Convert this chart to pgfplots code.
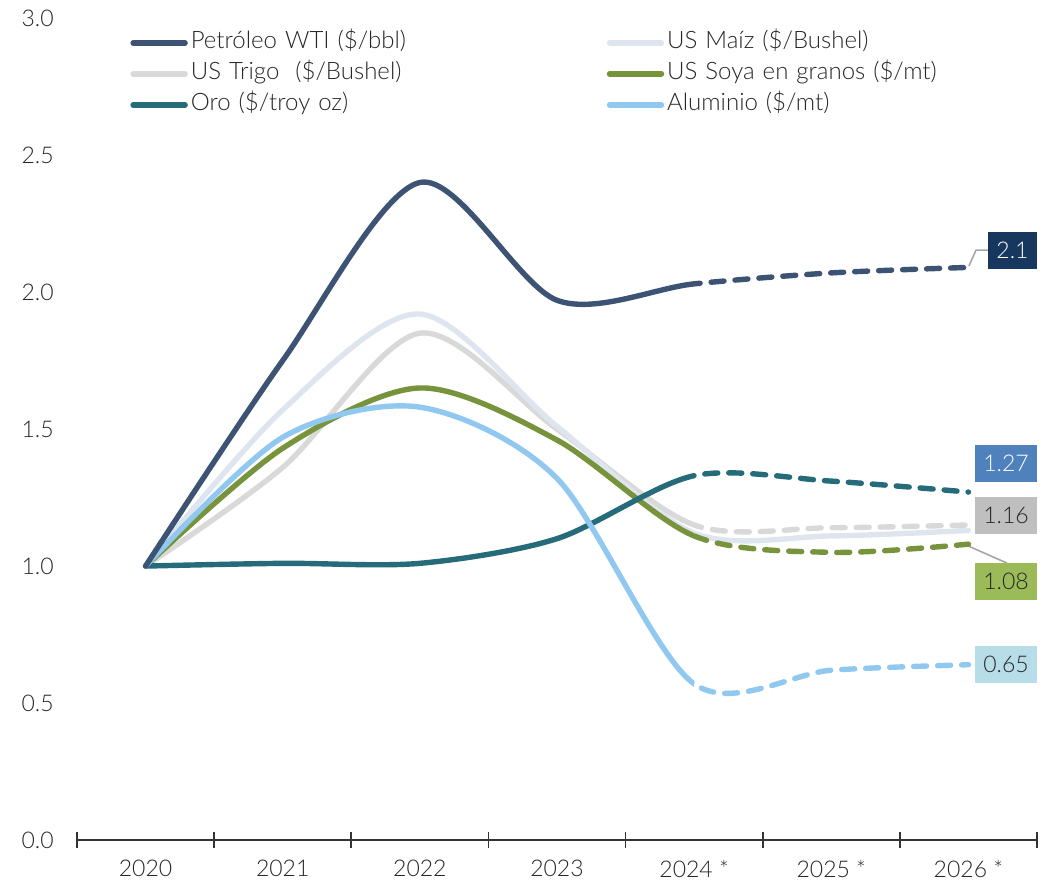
\documentclass[border=0pt]{standalone}
\usepackage{fontspec}
\setmainfont{Lato Light}
\usepackage{pgfplots}
\usepackage{pgfplotstable}
\pgfplotsset{compat=1.18}

\definecolor{cPet}{HTML}{3C5373}
\definecolor{cMaiz}{HTML}{DFE5EF}
\definecolor{cTrigo}{HTML}{D9D9D9}
\definecolor{cSoya}{HTML}{77933C}
\definecolor{cOro}{HTML}{256B7A}
\definecolor{cAlu}{HTML}{91C8F0}
\definecolor{bPet}{HTML}{17375E}
\definecolor{bOro}{HTML}{4F81BD}
\definecolor{bTrigo}{HTML}{BFBFBF}
\definecolor{bSoya}{HTML}{9BBB59}
\definecolor{bAlu}{HTML}{B7DEE8}

% index 1.0 = 2020; 4..6 = 2024*-2026* (forecast, dashed)
\pgfplotstableread{
x  pet   maiz  trigo soya  oro   alu
0  1.00  1.00  1.00  1.00  1.00  1.00
1  1.75  1.57  1.36  1.43  1.01  1.47
2  2.40  1.92  1.85  1.65  1.01  1.58
3  1.97  1.51  1.50  1.46  1.10  1.32
4  2.03  1.12  1.15  1.11  1.33  0.57
5  2.07  1.11  1.14  1.05  1.31  0.62
6  2.09  1.13  1.15  1.08  1.27  0.64
}\data

\pgfplotsset{
  solidline/.style={line width=2.7pt, smooth, line cap=round, line join=round},
  dashline/.style={solidline, dash pattern=on 6.5pt off 5.5pt},
  overlay/.style={scale only axis, height=411pt, ymin=0, ymax=3, hide axis, clip=true, anchor=south west},
}
% the whole curves are drawn twice: solid part clipped to <=2024, dashed to >=2024
\newcommand\curves[1]{%
  \addplot[cTrigo, #1] table[x=x, y=trigo] {\data};
  \addplot[cMaiz, solidline] table[x=x, y=maiz] {\data};
  \addplot[cSoya, #1] table[x=x, y=soya] {\data};
  \addplot[cOro, #1] table[x=x, y=oro] {\data};
  \addplot[cAlu, #1] table[x=x, y=alu] {\data};
  \addplot[cPet, #1] table[x=x, y=pet] {\data};
}

\begin{document}
\begin{tikzpicture}
\begin{axis}[
  scale only axis,
  width=480pt, height=411pt,
  xmin=-0.5, xmax=6.5, ymin=0, ymax=3,
  axis x line*=bottom, axis y line*=left,
  y axis line style={draw=none},
  x axis line style={line width=1.2pt, black!80},
  xtick={0,...,6},
  xticklabels={2020,2021,2022,2023,2024 *,2025 *,2026 *},
  major x tick style={draw=none},
  minor xtick={-0.5,0.5,...,6.5},
  minor x tick style={line width=0.8pt, black!80},
  minor tick length=8pt, tick align=center,
  ytick={0,0.5,...,3}, ytick style={draw=none},
  yticklabel style={/pgf/number format/.cd, fixed, fixed zerofill, precision=1, /tikz/.cd, xshift=-6pt},
  /pgf/number format/assume math mode=true,
  tick label style={font=\fontsize{11.5}{13}\selectfont, black!85},
  xticklabel style={yshift=-4.5pt},
  clip=false,
  legend columns=2,
  legend cell align=left,
  legend style={draw=none, fill=none, at={(axis cs:-0.1135,2.962)}, anchor=north west,
    inner sep=0pt, row sep=1.5pt, font=\fontsize{12}{13}\selectfont, text=black!85,
    nodes={inner sep=1.5pt, text width=206.5pt, text height=8.5pt, text depth=2.5pt},
    /tikz/every even column/.append style={column sep=0pt}},
  legend image code/.code={\draw[#1, line width=2.7pt, line cap=round] (0pt,0pt) -- (26pt,0pt);},
]
\addlegendimage{cPet}\addlegendentry{Petróleo WTI (\$/bbl)}
\addlegendimage{cMaiz}\addlegendentry{US Maíz (\$/Bushel)}
\addlegendimage{cTrigo}\addlegendentry{US Trigo~ (\$/Bushel)}
\addlegendimage{cSoya}\addlegendentry{US Soya en granos (\$/mt)}
\addlegendimage{cOro}\addlegendentry{Oro (\$/troy oz)}
\addlegendimage{cAlu}\addlegendentry{Aluminio (\$/mt)}

% end labels
\draw[gray!70, line width=0.8pt] (axis cs:6.143,2.153) -- (axis cs:6.055,2.153) -- (axis cs:6.004,2.095);
\draw[gray!70, line width=0.8pt] (axis cs:6.0,1.073) -- (axis cs:6.281,1.011);
\tikzset{endlbl/.style={inner sep=0pt, minimum width=31pt, minimum height=18.5pt, font=\fontsize{11.5}{13}\selectfont}}
\node[endlbl, fill=bPet, text=white, minimum width=24.5pt] at (axis cs:6.321,2.151) {2.1};
\node[endlbl, fill=bOro, text=white] at (axis cs:6.274,1.374) {1.27};
\node[endlbl, fill=bTrigo, text=black!85] at (axis cs:6.274,1.186) {1.16};
\node[endlbl, fill=bSoya, text=black!85] at (axis cs:6.274,0.945) {1.08};
\node[endlbl, fill=bAlu, text=black!85] at (axis cs:6.274,0.6405) {0.65};

\coordinate (bbll) at (axis cs:-1.0615,-0.15);
\coordinate (bbur) at (axis cs:6.624,3.066);
\end{axis}

% solid part: 2020 .. 2024
\begin{axis}[overlay, at={(0pt,0pt)}, width=308.571pt, xmin=-0.5, xmax=4]
\curves{solidline}
\end{axis}
% dashed part: 2024 .. 2026
\begin{axis}[overlay, at={(308.571pt,0pt)}, width=171.429pt, xmin=4, xmax=6.5]
\curves{dashline}
\end{axis}

\pgfresetboundingbox
\path[use as bounding box] (bbll) rectangle (bbur);
\end{tikzpicture}
\end{document}
